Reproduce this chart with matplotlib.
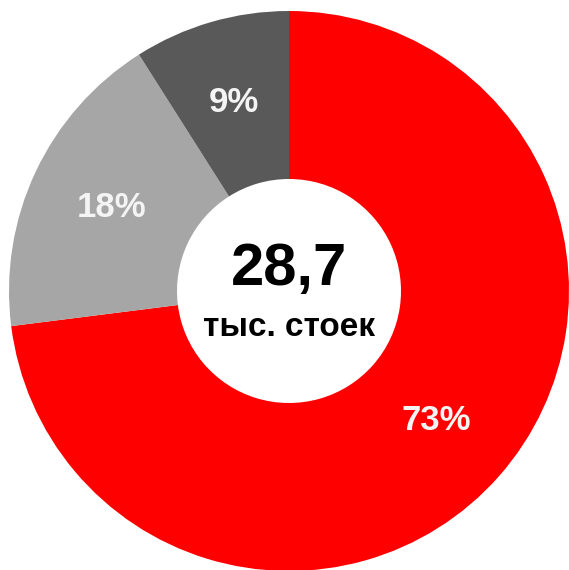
import matplotlib
matplotlib.use("Agg")
import matplotlib.pyplot as plt

categories = ["A", "B", "C"]
shares = [73, 18, 9]
colors = ["#FF0000", "#A6A6A6", "#595959"]
center_value = "28,7"
center_unit = "тыс. стоек"

fam = ["Liberation Sans Narrow", "Liberation Sans", "DejaVu Sans"]

fig = plt.figure(figsize=(5.69, 5.70), dpi=100)
fig.patch.set_facecolor("white")
ax = fig.add_axes([9 / 569, -1 / 570, 560 / 569, 560 / 570])
ax.set_xlim(-1, 1)
ax.set_ylim(-1, 1)
ax.axis("off")

wedges, texts, autotexts = ax.pie(
    shares, colors=colors, startangle=90, counterclock=False,
    radius=1.0, autopct=lambda p: f"{p:.0f}%", pctdistance=0.70,
    wedgeprops=dict(width=0.6, edgecolor="none", linewidth=0),
    textprops=dict(color="white", fontsize=25, fontweight="bold", family=fam),
)
for t in autotexts:
    t.set_color("#F4F4F4")
ax.set_aspect("auto")
ax.set_xlim(-1, 1)
ax.set_ylim(-1, 1)

ax.text(0, 0.075, center_value, ha="center", va="center", fontsize=43,
        fontweight="bold", family=fam, color="black")
ax.text(0, -0.13, center_unit, ha="center", va="center", fontsize=24,
        fontweight="bold", family=fam, color="black")

fig.savefig("out.png", dpi=100, facecolor="white")
